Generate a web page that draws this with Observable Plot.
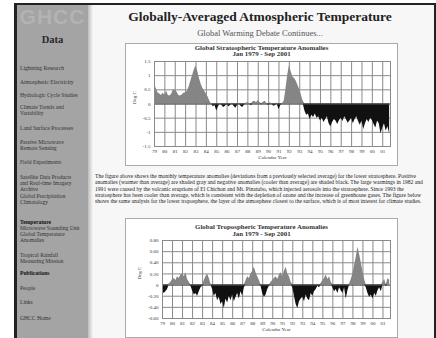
<!DOCTYPE html>
<html><head><meta charset="utf-8">
<script src="https://cdn.jsdelivr.net/npm/d3@7"></script>
<script src="https://cdn.jsdelivr.net/npm/@observablehq/plot@0.6"></script>
<style>
body{margin:0;width:436px;height:338px;overflow:hidden;background:#fff;font-family:"Liberation Serif","Times New Roman",serif;position:relative;}
.abs{position:absolute;}
#frame{left:14px;top:3px;width:417px;height:340px;border-left:3px solid #222;border-top:2px solid #222;border-right:2px solid #222;background:#f7f7f7;}
#side{left:17px;top:5px;width:71px;height:333px;background:#a4a4a4;}
#shade{left:88px;top:5px;width:5px;height:333px;background:linear-gradient(to right,#bdbdbd,#f7f7f7);}
#logo{left:17px;top:5px;width:71px;text-align:center;font:bold 21px "Liberation Sans",sans-serif;color:#b3b3b3;letter-spacing:1px;line-height:24px;}
#data{left:17px;top:34px;width:71px;text-align:center;font:bold 10.5px "Liberation Serif",serif;color:#2a2a2a;}
.mi{position:absolute;left:20px;width:66px;font-size:5.6px;line-height:6px;color:#333;}
.mi.b{font-weight:bold;color:#111;}
#title{left:100px;top:9px;width:320px;text-align:center;font:bold 13.5px "Liberation Serif",serif;color:#222;}
#sub{left:110px;top:28px;width:300px;text-align:center;font:8.5px "Liberation Serif",serif;color:#555;}
.chart{position:absolute;left:125px;width:271px;border:1px solid #aaa;background:#fff;}
.ctitle{text-align:center;font:bold 6.9px "Liberation Serif",serif;color:#333;}
#para{left:95px;top:173px;width:336px;font-size:5.6px;line-height:6.3px;color:#222;}
</style></head>
<body>
<div id="frame" class="abs"></div>
<div id="side" class="abs"></div>
<div id="shade" class="abs"></div>
<div id="logo" class="abs">GHCC</div>
<div id="data" class="abs">Data</div>
<div class="mi" style="top:65px">Lightning Research</div>
<div class="mi" style="top:79px">Atmospheric Electricity</div>
<div class="mi" style="top:92px">Hydrologic Cycle Studies</div>
<div class="mi" style="top:104px">Climate Trends and<br>Variability</div>
<div class="mi" style="top:125px">Land Surface Processes</div>
<div class="mi" style="top:139px">Passive Microwave<br>Remote Sensing</div>
<div class="mi" style="top:159px">Field Experiments</div>
<div class="mi" style="top:174px">Satellite Data Products<br>and Real-time Imagery<br>Archive</div>
<div class="mi" style="top:193px">Global Precipitation<br>Climatology</div>
<div class="mi b" style="top:219px">Temperature</div>
<div class="mi" style="top:225px">Microwave Sounding Unit<br>Global Temperature<br>Anomalies</div>
<div class="mi" style="top:252px">Tropical Rainfall<br>Measuring Mission</div>
<div class="mi b" style="top:270px">Publications</div>
<div class="mi" style="top:285px">People</div>
<div class="mi" style="top:299px">Links</div>
<div class="mi" style="top:315px">GHCC Home</div>

<div id="title" class="abs">Globally-Averaged Atmospheric Temperature</div>
<div id="sub" class="abs">Global Warming Debate Continues...</div>

<div class="chart" style="top:43px"><div class="ctitle" style="height:13px;line-height:6.2px;padding-top:1px;box-sizing:border-box">Global Stratospheric Temperature Anomalies<br>Jan 1979 - Sep 2001</div><div id="c1"></div></div>

<div id="para" class="abs">The figure above shows the monthly temperature anomalies (deviations from a previously selected average) for the lower stratosphere. Positive anomalies (warmer than average) are shaded gray and negative anomalies (cooler than average) are shaded black. The large warmings in 1982 and 1991 were caused by the volcanic eruptions of El Chichon and Mt. Pinatubo, which injected aerosols into the stratosphere. Since 1993 the stratosphere has been cooler than average, which is consistent with the depletion of ozone and the increase of greenhouse gases. The figure below shows the same analysis for the lower troposphere, the layer of the atmosphere closest to the surface, which is of most interest for climate studies.</div>

<div class="chart" style="top:218px"><div class="ctitle" style="height:18px;line-height:7px;padding-top:4px;box-sizing:border-box">Global Tropospheric Temperature Anomalies<br>Jan 1979 - Sep 2001</div><div id="c2"></div></div>

<script>
const years = [1979,1980,1981,1982,1983,1984,1985,1986,1987,1988,1989,1990,1991,1992,1993,1994,1995,1996,1997,1998,1999,2000,2001];
const stratTicks = [-1.5,-1,-0.5,0,0.5,1,1.5];
const tropTicks = [-0.6,-0.4,-0.2,0,0.2,0.4,0.6,0.8];
// bimonthly anomalies (deg C), Jan 1979 - Sep 2001
const stratAnom = [
 0.70,0.55,0.40,0.35,0.30,0.38,
 0.32,0.45,0.30,0.28,0.35,0.50,
 0.48,0.42,0.30,0.28,0.32,0.38,
 0.40,0.45,0.60,0.80,1.00,1.20,
 1.35,1.15,0.90,0.70,0.55,0.45,
 0.35,0.25,0.10,0.00,-0.10,-0.05,
 -0.25,-0.10,0.02,-0.05,-0.12,-0.08,
 -0.02,-0.10,-0.05,0.03,-0.08,-0.15,
 -0.05,0.02,-0.08,-0.12,-0.04,0.03,
 0.05,0.00,-0.06,0.08,0.10,0.04,
 0.12,0.05,-0.03,0.06,0.10,0.02,
 -0.05,0.04,-0.02,-0.08,-0.05,0.03,
 -0.20,-0.05,0.02,0.10,0.50,1.00,
 1.35,1.15,0.95,0.90,0.80,0.65,
 0.50,0.30,0.10,-0.25,-0.40,-0.35,
 -0.55,-0.40,-0.48,-0.35,-0.50,-0.45,
 -0.60,-0.50,-0.65,-0.55,-0.45,-0.70,
 -0.80,-0.65,-0.55,-0.60,-0.72,-0.58,
 -0.50,-0.62,-0.45,-0.55,-0.68,-0.60,
 -0.50,-0.70,-0.55,-0.45,-0.62,-0.75,
 -0.60,-0.90,-0.70,-0.55,-0.65,-0.50,
 -0.58,-0.72,-0.85,-0.60,-0.70,-1.05,
 -0.85,-0.70,-0.95,-0.80,-1.05
];
const tropAnom = [
 -0.10,-0.15,-0.12,-0.08,0.02,0.05,
 0.10,0.12,0.08,0.15,0.12,0.18,
 0.20,0.15,0.22,0.10,0.05,-0.02,
 -0.10,-0.18,-0.15,-0.20,-0.12,-0.05,
 -0.02,0.08,0.15,0.20,0.12,0.02,
 -0.08,-0.20,-0.15,-0.28,-0.22,-0.35,
 -0.30,-0.42,-0.25,-0.32,-0.20,-0.28,
 -0.18,-0.30,-0.22,-0.15,-0.25,-0.12,
 -0.20,-0.05,0.08,0.15,0.12,0.20,
 0.25,0.32,0.22,0.15,0.08,-0.02,
 -0.15,-0.22,-0.18,-0.08,-0.02,0.05,
 0.08,0.12,0.15,0.10,0.18,0.22,
 0.15,0.25,0.32,0.20,0.15,0.05,
 -0.05,-0.20,-0.35,-0.42,-0.30,-0.25,
 -0.22,-0.30,-0.18,-0.25,-0.28,-0.15,
 -0.20,-0.12,-0.08,-0.02,-0.05,0.03,
 0.08,0.12,0.18,0.10,0.15,0.05,
 -0.05,-0.12,-0.08,-0.15,-0.05,-0.10,
 -0.15,-0.05,-0.25,-0.10,0.02,0.10,
 0.20,0.35,0.50,0.68,0.55,0.40,
 0.25,0.10,-0.05,-0.15,-0.22,-0.18,
 -0.25,-0.15,-0.20,-0.10,-0.05,-0.12,
 0.05,0.10,-0.02,0.12,0.08
];
const xLabel = "Calendar Year";
const yLabel = "Deg C";

function chart(values, yTicks, o) {
  const data = values.map((v, i) => ({t: 1979 + i / 6, v}));
  return Plot.plot({
    width: 271, height: o.height,
    marginTop: o.mt, marginBottom: o.mb, marginLeft: o.ml, marginRight: 7,
    x: {domain: [1979, 2001.75]},
    y: {domain: [yTicks[0], yTicks[yTicks.length - 1]]},
    style: {fontFamily: "Liberation Serif, serif", fontSize: "5px", background: "transparent", color: "#333"},
    marks: [
      Plot.gridX(years, {stroke: "#8a8a8a", strokeOpacity: 1}),
      Plot.gridY(yTicks, {stroke: "#8a8a8a", strokeOpacity: 1}),
      Plot.areaY(data, {x: "t", y1: 0, y2: d => Math.max(0, d.v), fill: "#858585"}),
      Plot.areaY(data, {x: "t", y1: 0, y2: d => Math.min(0, d.v), fill: "#111"}),
      Plot.ruleY([0], {stroke: "#555"}),
      Plot.frame({stroke: "#8a8a8a"}),
      Plot.axisX({ticks: years, tickSize: 0, tickPadding: 3, tickFormat: d => String(d).slice(2), label: null}),
      Plot.axisY({ticks: yTicks, tickSize: 0, tickPadding: 4, tickFormat: o.fmt, label: null}),
      Plot.text([xLabel], {text: d => d, frameAnchor: "bottom", dy: o.xdy}),
      Plot.text([yLabel], {text: d => d, frameAnchor: "left", dx: o.ydx, rotate: -90})
    ]
  });
}
document.getElementById("c1").append(chart(stratAnom, stratTicks,
  {height: 108, mt: 4, mb: 19, ml: 28, xdy: 12, ydx: -20, fmt: d => d === 0 ? "0" : String(d)}));
document.getElementById("c2").append(chart(tropAnom, tropTicks,
  {height: 100, mt: 3, mb: 19, ml: 36, xdy: 12, ydx: -23, fmt: d => d === 0 ? "0" : d.toFixed(2)}));
</script>
</body></html>
